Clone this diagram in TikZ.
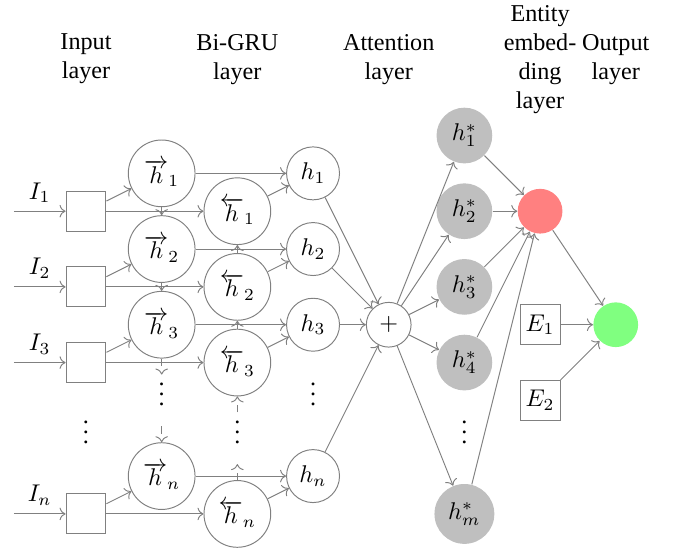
\documentclass[tikz,border=0pt]{standalone}
\usepackage{fontspec}
\setmainfont{Liberation Serif}
\usetikzlibrary{arrows.meta, calc}
\newcommand{\gpitch}{1.1}
\newcommand{\gx}[1]{1.25+(#1)*\gpitch}
\newcommand{\gy}[1]{-2.52-(#1)*\gpitch}
\definecolor{starfill}{RGB}{191,191,191}
\definecolor{entred}{RGB}{255,128,128}
\definecolor{outgreen}{RGB}{128,255,128}
\tikzset{
  gwire/.style  = {draw=gray, ->},
  ghead/.style  = {align=center, inner sep=0pt},
  gbox/.style   = {draw=gray, minimum size=5.8mm, inner sep=0pt},
  gcell/.style  = {circle, draw=gray, minimum size=9.7mm, inner sep=0pt},   % a GRU state
  gatt/.style   = {circle, draw=gray, minimum size=7.7mm, inner sep=0pt},   % attention input
  gsum/.style   = {circle, draw=gray, minimum size=6.5mm, inner sep=0pt},
  gstar/.style  = {circle, fill=starfill, minimum size=8.1mm, inner sep=0pt},
  gent/.style   = {circle, fill=entred, minimum size=6.5mm, inner sep=0pt},
  gout/.style   = {circle, fill=outgreen, minimum size=6.5mm, inner sep=0pt},
  gdots/.style  = {inner sep=0pt, text height=12.5pt, text depth=8.5pt},  % a skipped row
}

\begin{document}
\begin{tikzpicture}
  \useasboundingbox (0,0) rectangle (9.855,-7.994);
  % headers
  \node[ghead] (hin)  at ({\gx{0}}, -0.86) {Input\\layer};
  \node[ghead] (hgru) at ({\gx{2}}, -0.86) {Bi-GRU\\layer};
  \node[ghead] (hatt) at ({\gx{4}}, -0.86) {Attention\\layer};
  \node[ghead] (hent) at ({\gx{6}}, -0.86) {Entity\\embed-\\ding\\layer};
  \node[ghead] (hout) at ({\gx{7}}, -0.86) {Output\\layer};

  % input, bi-gru and attention rows
  \foreach \r/\s in {0/1,1/2,2/3,4/n} {
    \coordinate (in\s) at (0.2, {\gy{\r}-0.55});
    \node[gbox] (box\s) at ({\gx{0}}, {\gy{\r}-0.55}) {};
    \node[gcell] (fw\s) at ({\gx{1}}, {\gy{\r}}) {$\overrightarrow{h}_\s$};
    \node[gcell] (bw\s) at ({\gx{2}}, {\gy{\r}-0.55}) {$\overleftarrow{h}_\s$};
    \node[gatt] (att\s) at ({\gx{3}}, {\gy{\r}}) {$h_\s$};
    \draw[gwire] (in\s) -- node[above] {$I_\s$} (box\s);
    \draw[gwire] (box\s) -- (fw\s);
    \draw[gwire] (box\s) -- (bw\s);
    \draw[gwire] (fw\s) -- (att\s);
    \draw[gwire] (bw\s) -- (att\s);
  }
  \draw[gwire] (fw1) -- (fw2);
  \draw[gwire] (fw2) -- (fw3);
  \draw[gwire] (bw2) -- (bw1);
  \draw[gwire] (bw3) -- (bw2);

  \node[gdots] (dotin)  at ({\gx{0}}, {\gy{3}-0.55}) {$\vdots$};
  \node[gdots] (dotfw)  at ({\gx{1}}, {\gy{3}}) {$\vdots$};
  \node[gdots] (dotbw)  at ({\gx{2}}, {\gy{3}-0.55}) {$\vdots$};
  \node[gdots] (dotatt) at ({\gx{3}}, {\gy{3}}) {$\vdots$};
  \draw[gwire, dashed] (fw3) -- (dotfw);
  \draw[gwire, dashed] (dotfw) -- (fwn);
  \draw[gwire, dashed] (dotbw) -- (bw3);
  \draw[gwire, dashed] (bwn) -- (dotbw);

  % attention sum
  \node[gsum] (sum) at ({\gx{4}}, {\gy{2}}) {$+$};
  \foreach \s in {1,2,3,n} \draw[gwire] (att\s) -- (sum);

  % entity embedding and output
  \foreach \j/\s/\d in {0/1/8.1,1/2/8.1,2/3/8.1,3/4/8.1,5/m/8.7} {
    \node[gstar, minimum size=\d mm] (st\s) at ({\gx{5}}, {-1.97-\j*\gpitch}) {$h^*_\s$};
  }
  \node[gdots] (dotst) at ({\gx{5}}, {-1.97-4*\gpitch}) {$\vdots$};
  \node[gent] (ent) at ({\gx{6}}, {\gy{0}-0.55}) {};
  \node[gbox] (e1) at ({\gx{6}}, {\gy{2}}) {$E_1$};
  \node[gbox] (e2) at ({\gx{6}}, {\gy{3}}) {$E_2$};
  \node[gout] (out) at ({\gx{7}}, {\gy{2}}) {};
  \foreach \s in {1,2,3,4,m} {
    \draw[gwire] (sum) -- (st\s);
    \draw[gwire] (st\s) -- (ent);
  }
  \draw[gwire] (ent) -- (out);
  \draw[gwire] (e1) -- (out);
  \draw[gwire] (e2) -- (out);
\end{tikzpicture}
\end{document}
